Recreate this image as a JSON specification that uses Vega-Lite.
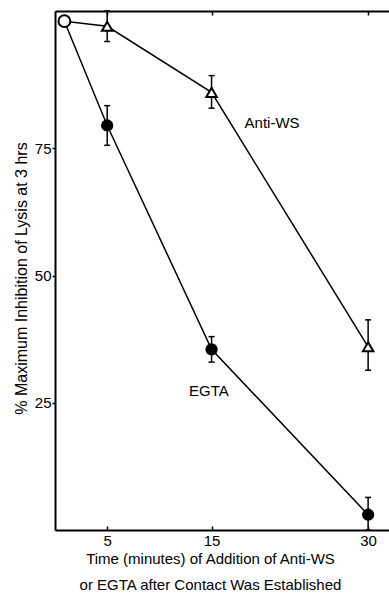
{
  "$schema": "https://vega.github.io/schema/vega-lite/v6.json",
  "width": 334,
  "height": 519,
  "autosize": {"type": "none"},
  "padding": {"left": 55, "top": 11, "right": 0, "bottom": 68},
  "background": "white",
  "config": {
    "view": {"stroke": null},
    "font": "Liberation Sans",
    "axis": {
      "grid": false,
      "domainColor": "black",
      "tickColor": "black",
      "labelColor": "black",
      "titleColor": "black",
      "labelFont": "Liberation Sans",
      "titleFont": "Liberation Sans",
      "titleFontWeight": "normal",
      "domainWidth": 2,
      "tickWidth": 1.5
    }
  },
  "datasets": {
    "pts": [
      {"series": "EGTA", "time": 0.9, "value": 100, "marker": "open"},
      {"series": "EGTA", "time": 5, "value": 79.5, "lo": 75.6, "hi": 83.4, "marker": "filled"},
      {"series": "EGTA", "time": 15, "value": 35.5, "lo": 33, "hi": 38, "marker": "filled"},
      {"series": "EGTA", "time": 30, "value": 3, "lo": 0, "hi": 6.4, "marker": "filled"},
      {"series": "Anti-WS", "time": 0.9, "value": 100, "marker": "open"},
      {"series": "Anti-WS", "time": 5, "value": 99, "lo": 96, "hi": 102, "marker": "triangle"},
      {"series": "Anti-WS", "time": 15, "value": 86, "lo": 82.9, "hi": 89.3, "marker": "triangle"},
      {"series": "Anti-WS", "time": 30, "value": 36, "lo": 31.4, "hi": 41.3, "marker": "triangle"}
    ],
    "labels": [
      {"label": "Anti-WS", "time": 20.8, "value": 80},
      {"label": "EGTA", "time": 14.75, "value": 27.3}
    ]
  },
  "resolve": {"axis": {"x": "independent"}},
  "layer": [
    {
      "data": {"name": "pts"},
      "mark": {"type": "line", "color": "black", "strokeWidth": 1.5},
      "encoding": {
        "x": {
          "field": "time", "type": "quantitative",
          "scale": {"domain": [0, 32], "nice": false, "zero": false},
          "axis": {
            "orient": "bottom",
            "values": [5, 15, 30],
            "tickSize": -4,
            "labelFontSize": 15,
            "labelPadding": 7,
            "title": ["Time (minutes) of Addition of Anti-WS", "or EGTA after Contact Was Established"],
            "titleFontSize": 15,
            "titleLineHeight": 26,
            "titleX": 155,
            "titlePadding": 3
          }
        },
        "y": {
          "field": "value", "type": "quantitative",
          "title": "% Maximum Inhibition of Lysis at 3 hrs",
          "scale": {"domain": [0, 102], "nice": false},
          "axis": {
            "values": [25, 50, 75],
            "tickSize": 3,
            "labelFontSize": 15,
            "labelPadding": 1,
            "titleFontSize": 16,
            "titlePadding": 5,
            "titleY": 267
          }
        },
        "detail": {"field": "series"}
      }
    },
    {
      "data": {"name": "pts"},
      "transform": [{"filter": "isValid(datum.lo)"}],
      "mark": {"type": "rule", "color": "black", "strokeWidth": 1.5},
      "encoding": {
        "x": {"field": "time", "type": "quantitative", "scale": {"domain": [0, 32], "nice": false, "zero": false}, "axis": null},
        "y": {"field": "lo", "type": "quantitative", "title": "% Maximum Inhibition of Lysis at 3 hrs", "scale": {"domain": [0, 102], "nice": false}},
        "y2": {"field": "hi"}
      }
    },
    {
      "data": {"name": "pts"},
      "transform": [{"filter": "isValid(datum.lo)"}],
      "mark": {"type": "tick", "color": "black", "strokeWidth": 1.5, "thickness": 1.5, "size": 6, "orient": "horizontal", "opacity": 1},
      "encoding": {
        "x": {"field": "time", "type": "quantitative", "scale": {"domain": [0, 32], "nice": false, "zero": false}, "axis": null},
        "y": {"field": "hi", "type": "quantitative", "title": "% Maximum Inhibition of Lysis at 3 hrs", "scale": {"domain": [0, 102], "nice": false}}
      }
    },
    {
      "data": {"name": "pts"},
      "transform": [{"filter": "isValid(datum.lo)"}],
      "mark": {"type": "tick", "color": "black", "strokeWidth": 1.5, "thickness": 1.5, "size": 6, "orient": "horizontal", "opacity": 1},
      "encoding": {
        "x": {"field": "time", "type": "quantitative", "scale": {"domain": [0, 32], "nice": false, "zero": false}, "axis": null},
        "y": {"field": "lo", "type": "quantitative", "title": "% Maximum Inhibition of Lysis at 3 hrs", "scale": {"domain": [0, 102], "nice": false}}
      }
    },
    {
      "data": {"name": "pts"},
      "transform": [{"filter": "datum.marker === 'filled'"}],
      "mark": {"type": "point", "shape": "circle", "filled": true, "color": "black", "size": 150, "opacity": 1},
      "encoding": {
        "x": {"field": "time", "type": "quantitative", "scale": {"domain": [0, 32], "nice": false, "zero": false}, "axis": null},
        "y": {"field": "value", "type": "quantitative", "title": "% Maximum Inhibition of Lysis at 3 hrs", "scale": {"domain": [0, 102], "nice": false}}
      }
    },
    {
      "data": {"name": "pts"},
      "transform": [{"filter": "datum.marker === 'triangle'"}],
      "mark": {"type": "point", "shape": "triangle-up", "filled": false, "fill": "white", "fillOpacity": 1, "stroke": "black", "strokeWidth": 2, "size": 110, "opacity": 1},
      "encoding": {
        "x": {"field": "time", "type": "quantitative", "scale": {"domain": [0, 32], "nice": false, "zero": false}, "axis": null},
        "y": {"field": "value", "type": "quantitative", "title": "% Maximum Inhibition of Lysis at 3 hrs", "scale": {"domain": [0, 102], "nice": false}}
      }
    },
    {
      "data": {"name": "pts"},
      "transform": [{"filter": "datum.marker === 'open' && datum.series === 'EGTA'"}],
      "mark": {"type": "point", "shape": "circle", "filled": false, "fill": "white", "fillOpacity": 1, "stroke": "black", "strokeWidth": 2, "size": 140, "opacity": 1},
      "encoding": {
        "x": {"field": "time", "type": "quantitative", "scale": {"domain": [0, 32], "nice": false, "zero": false},
          "axis": {"orient": "top", "values": [5, 15, 30], "tickSize": -4, "labels": false, "title": null}},
        "y": {"field": "value", "type": "quantitative", "title": "% Maximum Inhibition of Lysis at 3 hrs", "scale": {"domain": [0, 102], "nice": false}}
      }
    },
    {
      "data": {"name": "labels"},
      "mark": {"type": "text", "fontSize": 15, "color": "black", "font": "Liberation Sans"},
      "encoding": {
        "x": {"field": "time", "type": "quantitative", "scale": {"domain": [0, 32], "nice": false, "zero": false}, "axis": null},
        "y": {"field": "value", "type": "quantitative", "title": "% Maximum Inhibition of Lysis at 3 hrs", "scale": {"domain": [0, 102], "nice": false}},
        "text": {"field": "label"}
      }
    }
  ]
}
